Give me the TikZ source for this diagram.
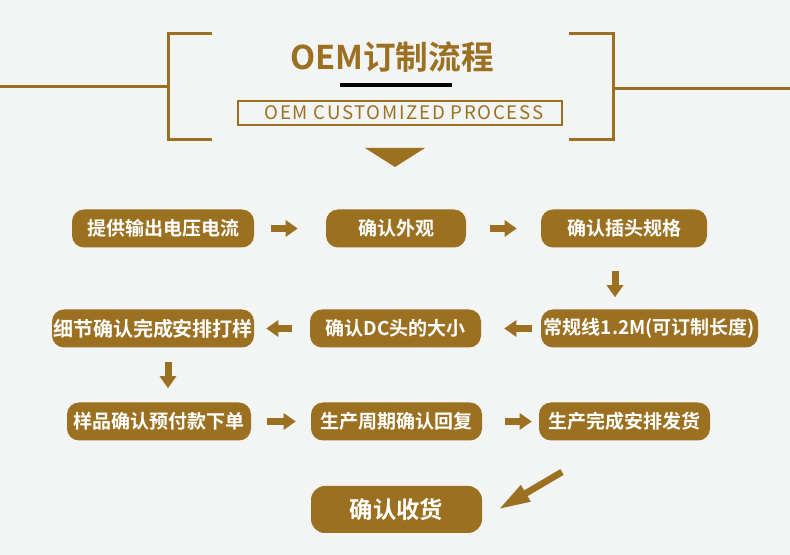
\documentclass[tikz,border=0pt]{standalone}
\usepackage{fontspec}
\setmainfont{Noto Sans CJK SC}[BoldFont={Noto Sans CJK SC Bold}]
\newfontfamily\spaced{Noto Sans CJK SC}[LetterSpace=9]
\usetikzlibrary{arrows.meta,positioning}
\definecolor{gold}{RGB}{155,113,33}
\definecolor{paper}{RGB}{243,244,244}
\tikzset{
  stepbox/.style={fill=gold, text=white, rounded corners=9pt, inner sep=0pt,
    minimum height=28.5pt, font=\bfseries\fontsize{14.25}{16}\selectfont},
  blk/.style={draw=gold, line width=5.25pt, -{Triangle[length=9pt,width=12pt]}},
  frame/.style={draw=gold, line width=2.25pt}
}

\begin{document}
\begin{tikzpicture}[x=0.75pt, y=-0.75pt]
    \useasboundingbox[fill=paper] (0,0) rectangle (790,555);

    % Title with brackets
    \draw[frame] (212,34) -- (168,34) -- (168,140) -- (212,140);
    \draw[frame] (0,87) -- (168,87);
    \draw[frame] (569,34) -- (613,34) -- (613,140) -- (569,140);
    \draw[frame] (613,89) -- (790,89);
    \node[text=gold, font=\bfseries\fontsize{24.5}{27}\selectfont] (title) at (392,57) {OEM订制流程};
    \draw[line width=3pt] (340,85) -- (452,85);
    \draw[gold, line width=1.5pt] (238,101) rectangle (562,125);
    \node[text=gold, font=\spaced\fontsize{14}{16}\selectfont] (subtitle) at (404,113) {OEM CUSTOMIZED PROCESS};
    \fill[gold] (365,148) -- (425,148) -- (395,167) -- cycle;

    % Steps
    \node[stepbox, minimum width=136.5pt]  (b1) at (163,228.5) {提供输出电压电流};
    \node[stepbox, minimum width=105pt]    (b2) at (396,228.5) {确认外观};
    \node[stepbox, minimum width=124.5pt]  (b3) at (624,228.5) {确认插头规格};
    \node[stepbox, minimum width=151.5pt, font=\bfseries\fontsize{15}{16}\selectfont] (b4) at (153,328.5) {细节确认完成安排打样};
    \node[stepbox, minimum width=128.25pt] (b5) at (395.5,328.5) {确认DC头的大小};
    \node[stepbox, minimum width=162.75pt] (b6) at (649.5,328.5) {常规线1.2M(可订制长度)};
    \node[stepbox, minimum width=138pt]    (b7) at (159,421.5) {样品确认预付款下单};
    \node[stepbox, minimum width=128.25pt] (b8) at (396.5,421.5) {生产周期确认回复};
    \node[stepbox, minimum width=128.25pt] (b9) at (624.5,421.5) {生产完成安排发货};
    \node[stepbox, minimum width=128.25pt, minimum height=35.25pt, rounded corners=10.5pt,
          font=\bfseries\fontsize{17.5}{20}\selectfont] (b10) at (396.5,509.5) {确认收货};

    % Arrows
    \foreach \from/\to/\s/\e in {b1/b2/12.75pt/21pt, b2/b3/18pt/18pt, b6/b5/6.75pt/17.25pt,
        b5/b4/13.5pt/9pt, b7/b8/12pt/11.25pt, b8/b9/17.25pt/5.25pt}
        \draw[blk, shorten <=\s, shorten >=\e] (\from) -- (\to);
    \draw[blk, shorten <=17.25pt, shorten >=9pt] ([xshift=-6.75pt]b3.south) -- ([xshift=-6.75pt]b3.south |- b6.north);
    \draw[blk, shorten <=10.5pt, shorten >=10.5pt] ([xshift=11.25pt]b4.south) -- ([xshift=11.25pt]b4.south |- b7.north);
    \coordinate (tail) at (562,472);
    \draw[draw=gold, line width=5pt, -{Triangle[length=24pt,width=13pt]}] (tail) -- ([xshift=12pt]b10.east);
\end{tikzpicture}
\end{document}
